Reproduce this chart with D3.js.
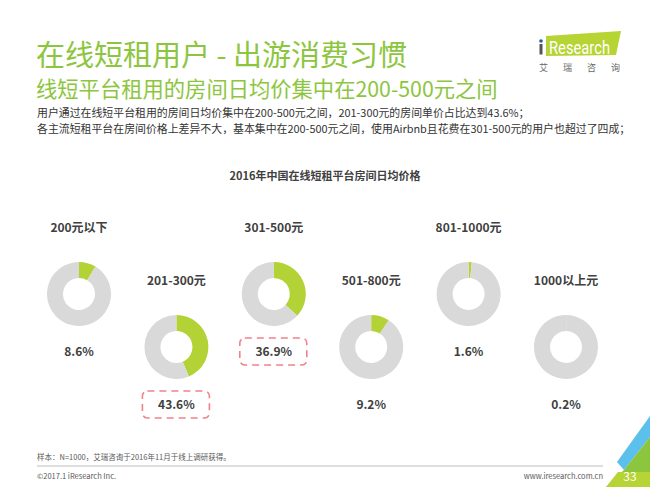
<!DOCTYPE html>
<html>
<head>
<meta charset="utf-8">
<script src="https://cdn.jsdelivr.net/npm/d3@7"></script>
<style>
  body { margin: 0; background: #fff; }
  svg { display: block; font-family: "Noto Sans CJK SC", "Noto Sans", sans-serif; }
  .lbl { font-weight: bold; fill: #404040; font-size: 12px; }
</style>
</head>
<body>
<div id="graf"></div>
<script>
// data
const categories = ['200元以下', '201-300元', '301-500元', '501-800元', '801-1000元', '1000以上元']
const shares = [8.6, 43.6, 36.9, 9.2, 1.6, 0.2]
const highlighted = ['201-300元', '301-500元']

const title = '在线短租用户 - 出游消费习惯'
const subtitle = '线短平台租用的房间日均价集中在200-500元之间'
const notes = [
  '用户通过在线短平台租用的房间日均价集中在200-500元之间，201-300元的房间单价占比达到43.6%；',
  '各主流短租平台在房间价格上差异不大，基本集中在200-500元之间，使用Airbnb且花费在301-500元的用户也超过了四成；'
]
const chartTitle = '2016年中国在线短租平台房间日均价格'
const source = '样本：N=1000，艾瑞咨询于2016年11月于线上调研获得。'

const anchoTotal = 650
const altoTotal = 487
const green = '#b2d235'
const grey = '#d9d9d9'

const svg = d3.select('#graf')
  .append('svg')
  .attr('width', anchoTotal)
  .attr('height', altoTotal)

// header
svg.append('text')
  .attr('x', 36).attr('y', 66)
  .attr('font-size', 29)
  .attr('fill', '#8cc63e')
  .text(title)

svg.append('text')
  .attr('x', 36).attr('y', 97)
  .attr('font-size', 21.3)
  .attr('fill', '#8cc63e')
  .text(subtitle)

svg.selectAll('.note').data(notes)
  .enter()
  .append('text')
  .attr('class', 'note')
  .attr('x', 37)
  .attr('y', (d, i) => 117 + i * 15.5)
  .attr('font-size', 10.9)
  .attr('fill', '#333')
  .text(d => d)

// logo
const logo = svg.append('g')
logo.append('polygon')
  .attr('points', '546,36 621,31 616,55 546,56')
  .attr('fill', '#b6d433')
logo.append('circle').attr('cx', 541).attr('cy', 41).attr('r', 1.8).attr('fill', '#1f5fa8')
logo.append('rect').attr('x', 539.5).attr('y', 44).attr('width', 3).attr('height', 10.5).attr('fill', '#555')
logo.append('text')
  .attr('x', 549).attr('y', 54)
  .attr('font-family', 'Roboto, "Noto Sans", sans-serif')
  .attr('font-size', 18)
  .attr('textLength', 61)
  .attr('lengthAdjust', 'spacingAndGlyphs')
  .attr('fill', '#fff')
  .text('Research')
logo.append('text')
  .attr('x', 539).attr('y', 71)
  .attr('font-size', 9)
  .attr('letter-spacing', 15)
  .attr('fill', '#666')
  .text('艾瑞咨询')

svg.append('text')
  .attr('x', 325).attr('y', 180)
  .attr('text-anchor', 'middle')
  .attr('class', 'lbl')
  .style('font-size', '11px')
  .text(chartTitle)

// donuts
const x = d3.scalePoint()
  .domain(categories)
  .range([79, 566])

const rowY = d3.scaleOrdinal()
  .domain([0, 1])
  .range([294, 347])

const pie = d3.pie().sort(null).value(d => d)
const arc = d3.arc().innerRadius(16).outerRadius(32)

const items = categories.map((c, i) => ({ cat: c, val: shares[i], row: i % 2 }))

const g = svg.selectAll('.donut').data(items)
  .enter()
  .append('g')
  .attr('class', 'donut')
  .attr('transform', d => `translate(${x(d.cat)}, ${rowY(d.row)})`)

g.selectAll('path')
  .data(d => pie([d.val, 100 - d.val]))
  .enter()
  .append('path')
  .attr('d', arc)
  .attr('fill', (d, i) => i === 0 ? green : grey)

g.append('text')
  .attr('class', 'lbl')
  .attr('y', -66)
  .attr('dy', '0.35em')
  .attr('text-anchor', 'middle')
  .text(d => d.cat)

g.append('text')
  .attr('class', 'lbl')
  .attr('y', 58)
  .attr('dy', '0.35em')
  .attr('text-anchor', 'middle')
  .text(d => d.val.toFixed(1) + '%')

g.filter(d => highlighted.includes(d.cat))
  .append('rect')
  .attr('x', -34).attr('y', 44)
  .attr('width', 67).attr('height', 27)
  .attr('rx', 5)
  .attr('fill', 'none')
  .attr('stroke', '#f0828a')
  .attr('stroke-width', 1.6)
  .attr('stroke-dasharray', '7,5')

// footer
svg.append('text')
  .attr('x', 37).attr('y', 460)
  .attr('font-size', 7.5)
  .attr('fill', '#595959')
  .text(source)

svg.append('line')
  .attr('x1', 37).attr('x2', 603)
  .attr('y1', 466).attr('y2', 466)
  .attr('stroke', '#bfbfbf')
  .attr('stroke-width', 1)

svg.append('text')
  .attr('x', 37).attr('y', 479)
  .attr('font-size', 7.5)
  .attr('fill', '#595959')
  .text('©2017.1 iResearch Inc.')

svg.append('text')
  .attr('x', 603).attr('y', 479)
  .attr('text-anchor', 'end')
  .attr('font-size', 7.5)
  .attr('fill', '#595959')
  .text('www.iresearch.com.cn')

// corner decoration
svg.append('polygon').attr('points', '617,462 650,416 650,437 624,470').attr('fill', '#5bc0eb')
svg.append('polygon').attr('points', '624,470 650,437 650,487 606,487').attr('fill', '#8cc63e')
svg.append('polygon').attr('points', '606,487 618,472 650,472 650,487').attr('fill', '#b6d433')
svg.append('text')
  .attr('x', 630).attr('y', 481)
  .attr('text-anchor', 'middle')
  .attr('font-size', 12)
  .attr('fill', '#fff')
  .text('33')
</script>
</body>
</html>
